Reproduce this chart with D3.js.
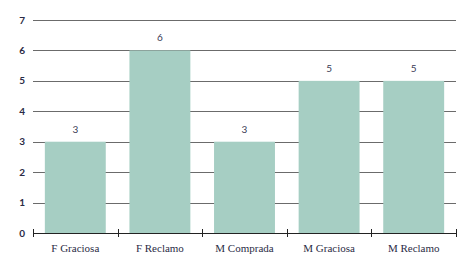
<!DOCTYPE html>
<html>
<head>
<meta charset="utf-8">
<script src="https://cdn.jsdelivr.net/npm/d3@7"></script>
<style>
  body { margin: 0; background: #fff; }
  svg { display: block; }
</style>
</head>
<body>
<div id="chart"></div>
<script>
const WIDTH = 475
const HEIGHT = 264

const categories = ['F Graciosa', 'F Reclamo', 'M Comprada', 'M Graciosa', 'M Reclamo']
const values = [3, 6, 3, 5, 5]
const yTicks = [0, 1, 2, 3, 4, 5, 6, 7]

const margin = { left: 33, right: 19, top: 20, bottom: 31 }

const svg = d3.select('#chart').append('svg').attr('width', WIDTH).attr('height', HEIGHT)

const x = d3.scaleBand()
    .domain(categories)
    .range([margin.left, WIDTH - margin.right])
    .paddingInner(0.28)
    .paddingOuter(0.14)

const y = d3.scaleLinear()
    .domain([0, 7])
    .range([HEIGHT - margin.bottom, margin.top])

// gridlines
svg.append('g')
    .selectAll('line')
    .data(yTicks.filter(d => d > 0))
    .enter()
    .append('line')
    .attr('x1', margin.left)
    .attr('x2', WIDTH - margin.right)
    .attr('y1', d => Math.round(y(d)) + 0.5)
    .attr('y2', d => Math.round(y(d)) + 0.5)
    .attr('stroke', '#6b6b6b')
    .attr('stroke-width', 1)

// y labels
svg.append('g')
    .selectAll('text')
    .data(yTicks)
    .enter()
    .append('text')
    .attr('x', 25)
    .attr('y', d => y(d))
    .attr('dy', '0.35em')
    .attr('text-anchor', 'end')
    .attr('font-family', 'Lato, sans-serif')
    .attr('font-size', 10)
    .attr('font-weight', 'bold')
    .attr('fill', '#2b2b45')
    .text(d => d)

// bars
svg.append('g')
    .selectAll('rect')
    .data(values)
    .enter()
    .append('rect')
    .attr('x', (d, i) => x(categories[i]))
    .attr('width', x.bandwidth())
    .attr('y', d => y(d))
    .attr('height', d => y(0) - y(d))
    .attr('fill', '#a6cec3')

// value labels
svg.append('g')
    .selectAll('text')
    .data(values)
    .enter()
    .append('text')
    .attr('x', (d, i) => x(categories[i]) + x.bandwidth() / 2)
    .attr('y', d => y(d) - 9)
    .attr('text-anchor', 'middle')
    .attr('font-family', 'Lato, sans-serif')
    .attr('font-size', 10)
    .attr('fill', '#3a3a55')
    .text(d => d)

// x axis
const step = x.step()
const boundaries = d3.range(categories.length + 1).map(i => margin.left + i * (WIDTH - margin.left - margin.right) / categories.length)
const axis = svg.append('g')
axis.append('line')
    .attr('x1', margin.left)
    .attr('x2', WIDTH - margin.right)
    .attr('y1', Math.round(y(0)) + 0.5)
    .attr('y2', Math.round(y(0)) + 0.5)
    .attr('stroke', '#222')
    .attr('stroke-width', 1.2)
axis.selectAll('.tick')
    .data(boundaries)
    .enter()
    .append('line')
    .attr('x1', d => Math.round(d) + 0.5)
    .attr('x2', d => Math.round(d) + 0.5)
    .attr('y1', y(0) - 4)
    .attr('y2', y(0) + 4)
    .attr('stroke', '#222')
    .attr('stroke-width', 1)

axis.selectAll('.xlabel')
    .data(categories)
    .enter()
    .append('text')
    .attr('x', d => x(d) + x.bandwidth() / 2)
    .attr('y', 248)
    .attr('dy', '0.35em')
    .attr('text-anchor', 'middle')
    .attr('font-family', '"Liberation Serif", serif')
    .attr('font-size', 11)
    .attr('fill', '#2b2b45')
    .text(d => d)
</script>
</body>
</html>
